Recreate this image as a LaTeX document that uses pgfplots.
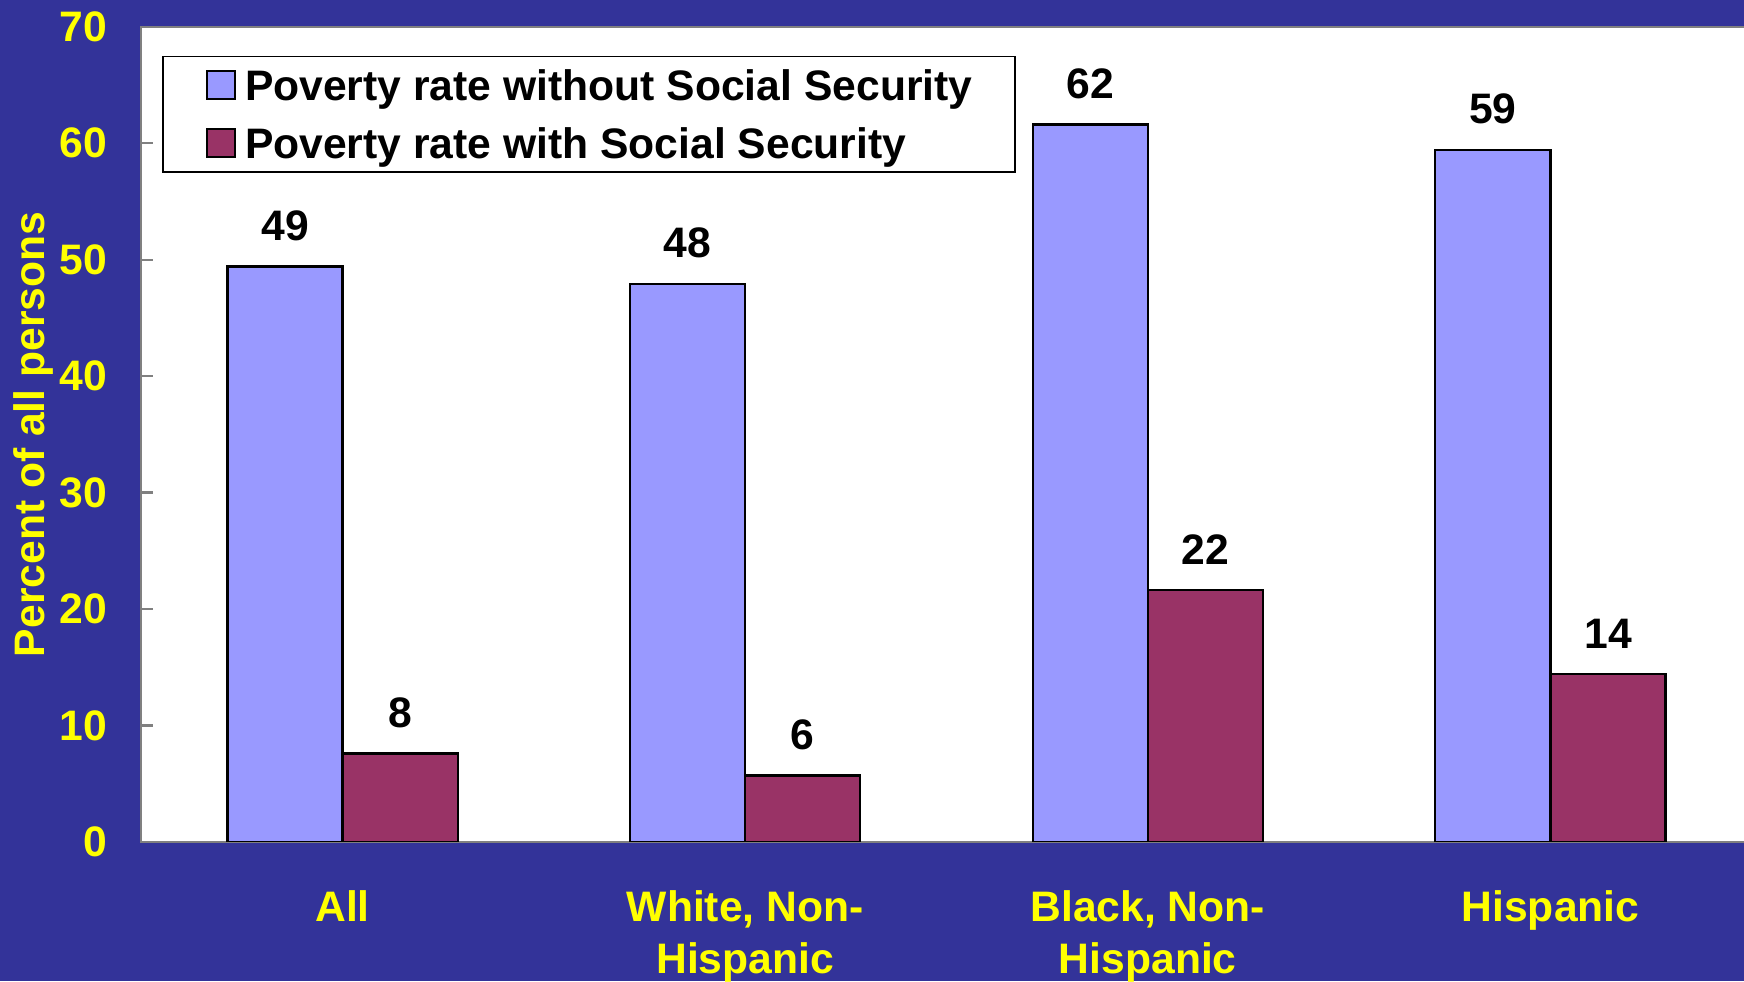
\documentclass[border=0pt]{standalone}
\usepackage{fontspec}
\setmainfont{Liberation Sans}
\usepackage{pgfplots}
\pgfplotsset{compat=1.18}
\definecolor{bgblue}{HTML}{333399}
\definecolor{barblue}{HTML}{9999FF}
\definecolor{barred}{HTML}{993366}
\definecolor{ticky}{HTML}{FFFF00}
\newcommand{\chartfont}{\fontsize{11.5}{14.1}\selectfont\bfseries}
\begin{document}
\begin{tikzpicture}
	\fill[bgblue] (0,0) rectangle (470.4pt,264.6pt);
	\begin{axis}[
		at={(38.1pt,257.4pt)}, anchor=north west,
		width=434.4pt, height=219.9pt, scale only axis,
		ybar=0pt, bar width=31.05pt,
		xmin=-0.5, xmax=3.5, ymin=0, ymax=70,
		xtick={0,1,2,3},
		xticklabels={All,{White, Non-\\Hispanic},{Black, Non-\\Hispanic},Hispanic},
		xtick style={draw=none},
		xticklabel style={font=\chartfont, text=ticky, align=center, inner sep=0pt, yshift=-12.9pt},
		ytick={0,10,...,70},
		ytick pos=left,
		tick align=inside, major tick length=3.3pt,
		ytick style={draw=gray, line width=0.6pt},
		yticklabel style={font=\chartfont, text=ticky, inner sep=0pt, xshift=-9pt},
		/pgf/number format/assume math mode=true,
		ylabel={Percent of all persons},
		ylabel style={at={(axis description cs:-0.067,0.5)}, anchor=center, font=\chartfont, text=ticky, inner sep=0pt},
		axis background/.style={fill=white},
		axis line style={draw=gray, line width=0.6pt},
		nodes near coords,
		every node near coord/.append style={/pgf/number format/fixed, /pgf/number format/precision=0,
			font=\chartfont, text=black, inner sep=0pt, yshift=6.7pt},
		legend style={at={(axis description cs:0.01312,0.9645)}, anchor=north west,
			draw=black, line width=0.4pt, fill=white,
			inner xsep=11.5pt, inner ysep=0pt, row sep=0pt, column sep=2.5pt,
			font=\chartfont, cells={anchor=west},
			nodes={inner sep=0pt, text height=11.9pt, text depth=3.7pt}},
		legend image code/.code={\draw[#1, line width=0.6pt] (0pt,-3.75pt) rectangle (7.5pt,3.75pt);},
	]
	\addplot[draw=black, line width=0.6pt, fill=barblue] coordinates {
		(0,49.4) (1,47.9) (2,61.6) (3,59.4)
	};
	\addplot[draw=black, line width=0.6pt, fill=barred] coordinates {
		(0,7.6) (1,5.7) (2,21.6) (3,14.4)
	};
	\legend{Poverty rate without Social Security,Poverty rate with Social Security}
	\end{axis}
	\pgfresetboundingbox
	\useasboundingbox (0,0) rectangle (470.4pt,264.6pt);
\end{tikzpicture}
\end{document}
